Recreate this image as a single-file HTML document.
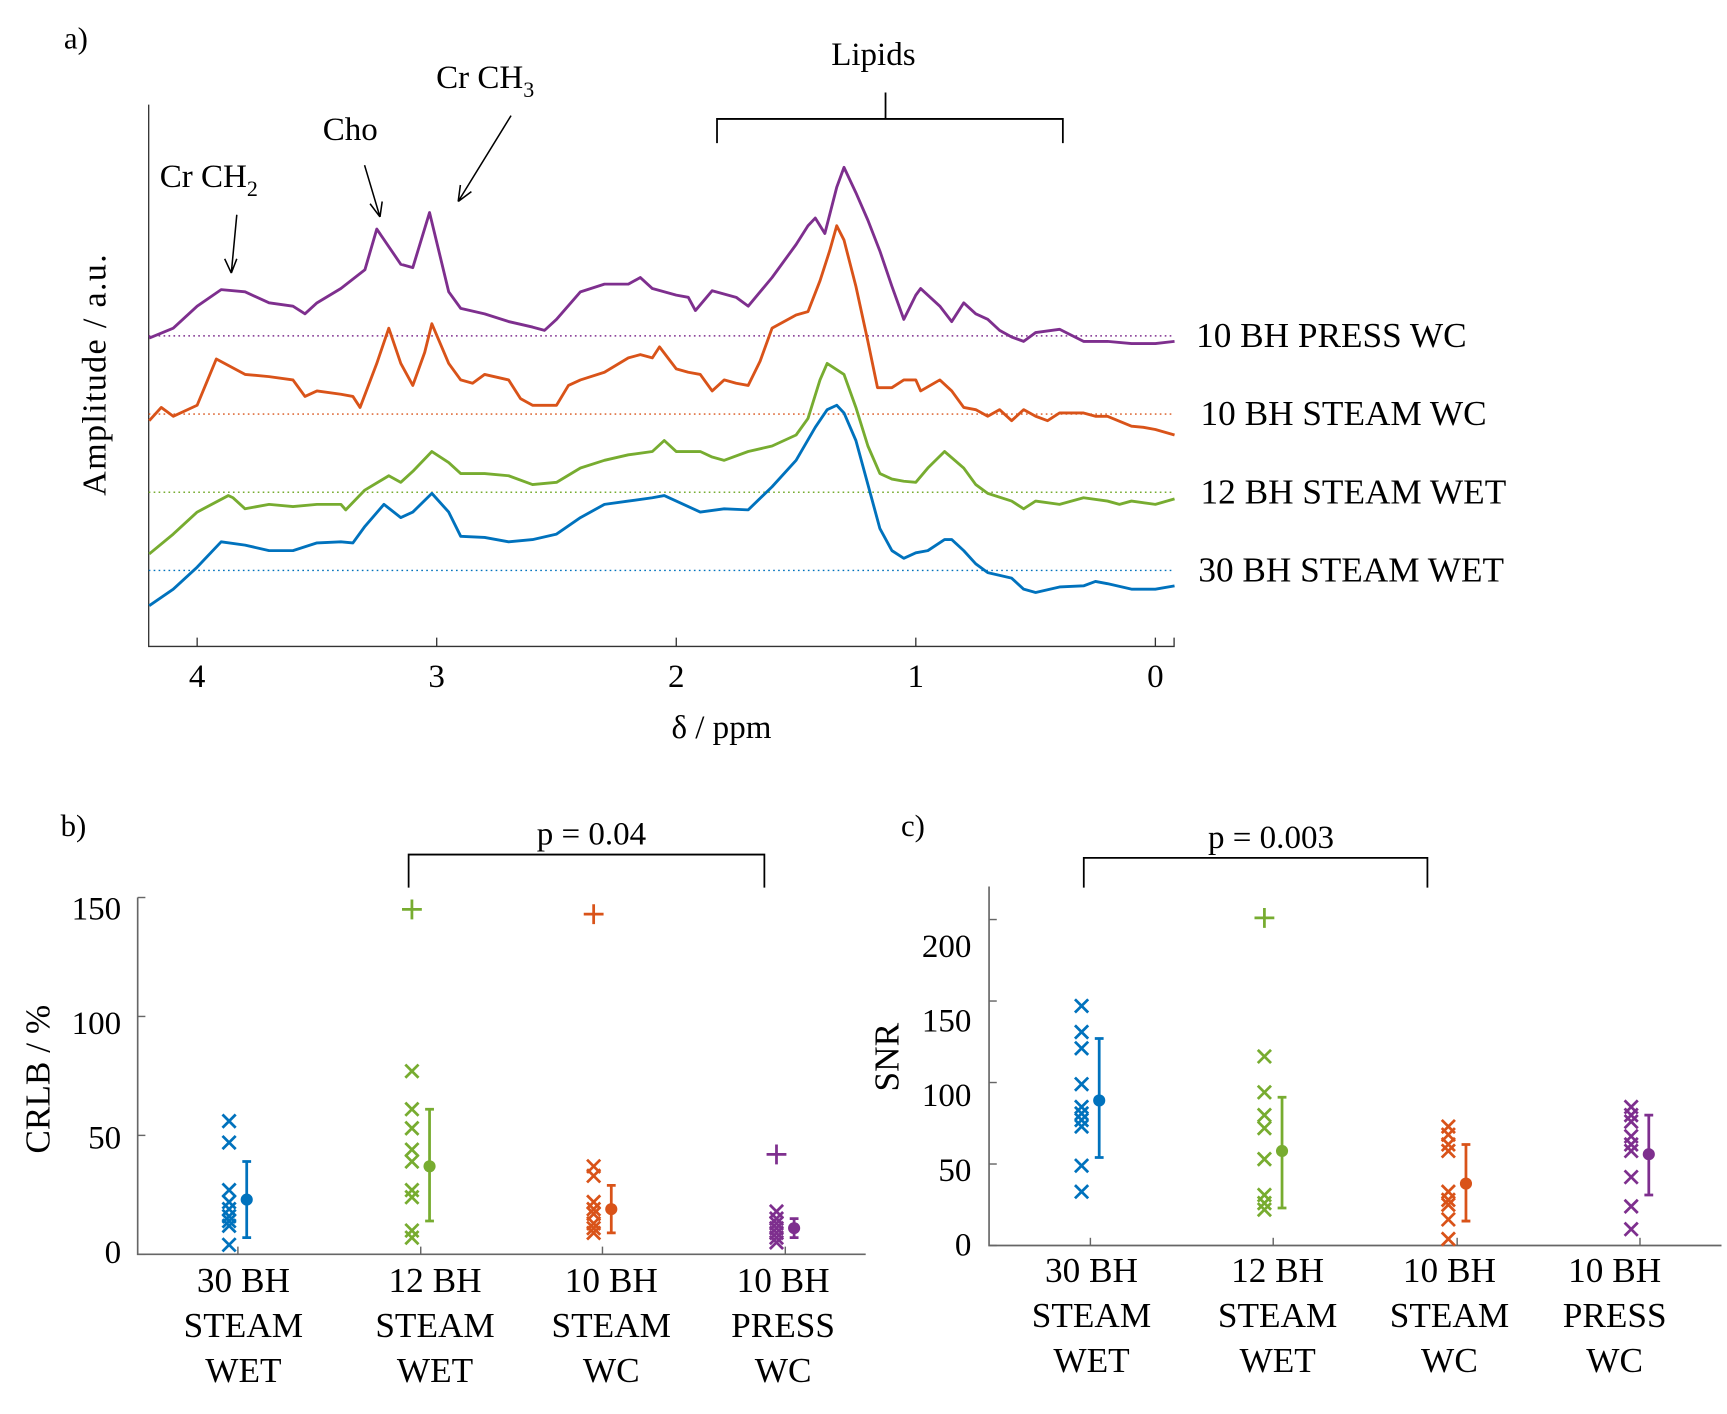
<!DOCTYPE html>
<html><head><meta charset="utf-8"><style>
html,body{margin:0;padding:0;background:#fff;}
svg{display:block;font-family:"Liberation Serif",serif;}
</style></head><body>
<svg id="fig" width="1727" height="1414" viewBox="0 0 1568 1284" preserveAspectRatio="none" xmlns="http://www.w3.org/2000/svg">
<rect width="1568" height="1284" fill="#fff"/>
<g id="pa"></g>
<g id="pb"></g>
<g id="pc"></g>
</svg>
<script>
// ===== Panel a data =====
const ppmPurple=[4.2,4.1,4.0,3.9,3.8,3.7,3.6,3.55,3.5,3.4,3.3,3.25,3.15,3.1,3.03,2.95,2.9,2.8,2.7,2.6,2.55,2.5,2.4,2.3,2.2,2.15,2.1,2.0,1.95,1.92,1.85,1.75,1.7,1.6,1.5,1.45,1.42,1.38,1.33,1.3,1.25,1.2,1.15,1.1,1.05,1.0,0.98,0.9,0.85,0.8,0.75,0.7,0.65,0.6,0.55,0.5,0.4,0.3,0.2,0.1,0.05,0,-0.08];
const ampPurple=[-2,7,27,42,40,30,27,20,30,43,60,97,65,62,112,40,25,20,13,8,5,15,40,47,47,53,43,37,35,23,41,35,27,53,83,100,107,93,135,153,130,105,77,45,15,37,43,27,13,30,20,15,5,-1,-5,3,6,-5,-5,-7,-7,-7,-5];
const ppmOrange=[4.2,4.15,4.1,4.0,3.92,3.8,3.7,3.6,3.55,3.5,3.4,3.35,3.32,3.25,3.2,3.15,3.1,3.05,3.02,2.95,2.9,2.85,2.8,2.7,2.65,2.6,2.5,2.45,2.4,2.3,2.2,2.15,2.1,2.07,2.0,1.95,1.9,1.85,1.8,1.75,1.7,1.65,1.6,1.5,1.45,1.4,1.36,1.33,1.3,1.25,1.2,1.16,1.1,1.05,1.0,0.98,0.9,0.85,0.8,0.75,0.7,0.65,0.6,0.55,0.5,0.45,0.4,0.3,0.25,0.2,0.1,0.05,0,-0.08];
const ampOrange=[-6,6,-2,8,50,36,34,31,16,21,18,16,6,46,78,46,26,56,82,46,31,28,36,31,14,8,8,26,31,38,51,54,51,61,41,38,36,21,31,28,26,48,78,90,93,121,148,171,158,116,66,24,24,31,31,21,31,21,6,4,-2,4,-6,4,-2,-6,1,1,-2,-2,-11,-12,-14,-19];
const ppmGreen=[4.2,4.1,4.0,3.87,3.85,3.8,3.7,3.6,3.5,3.4,3.38,3.3,3.2,3.15,3.1,3.02,2.95,2.9,2.8,2.7,2.6,2.5,2.4,2.3,2.2,2.1,2.05,2.0,1.9,1.85,1.8,1.7,1.6,1.55,1.5,1.45,1.4,1.37,1.3,1.25,1.2,1.15,1.1,1.05,1.0,0.95,0.88,0.8,0.75,0.7,0.6,0.55,0.5,0.4,0.3,0.2,0.15,0.1,0,-0.08];
const ampGreen=[-56,-38,-18,-3,-5,-15,-11,-13,-11,-11,-16,2,15,9,19,37,27,17,17,15,7,9,22,29,34,37,47,37,37,32,29,37,42,47,52,67,102,117,107,77,42,17,12,10,9,22,37,22,7,-1,-8,-15,-8,-11,-5,-8,-11,-8,-11,-6];
const ppmBlue=[4.2,4.1,4.0,3.9,3.8,3.7,3.6,3.5,3.4,3.35,3.3,3.22,3.15,3.1,3.02,2.95,2.9,2.8,2.7,2.6,2.5,2.4,2.3,2.2,2.1,2.05,2.0,1.9,1.8,1.7,1.6,1.5,1.42,1.37,1.33,1.3,1.25,1.2,1.15,1.1,1.05,1.0,0.95,0.88,0.85,0.8,0.75,0.7,0.6,0.55,0.5,0.4,0.3,0.25,0.2,0.1,0,-0.08];
const ampBlue=[-32,-17,3,26,23,18,18,25,26,25,40,60,48,53,70,53,31,30,26,28,33,48,60,63,66,68,63,53,56,55,76,100,130,146,150,143,118,78,38,18,11,16,18,28,28,18,6,-2,-7,-17,-20,-15,-14,-10,-12,-17,-17,-14];
const traceLabels=["10 BH PRESS WC","10 BH STEAM WC","12 BH STEAM WET","30 BH STEAM WET"];
const xTicksA=[4,3,2,1,0];

// ===== Panel b data =====
const cats=[["30 BH","STEAM","WET"],["12 BH","STEAM","WET"],["10 BH","STEAM","WC"],["10 BH","PRESS","WC"]];
const crlbPoints=[[56,47,27,22,19,16,14,12,4],[77,61,53,44,39,27,24,10,7],[37,33,22,19,17,13,11,9],[18,15,13,11,9,7,5]];
const crlbOutliers=[null,145,143,42];
const crlbMean=[23,37,19,11];
const crlbLow=[7,14,9,7];
const crlbHigh=[39,61,29,15];
const crlbTicks=[0,50,100,150];

// ===== Panel c data =====
const snrPoints=[[147,131,121,99,85,81,77,73,49,33],[116,94,80,72,53,31,26,22],[73,68,62,58,33,28,25,16,4],[85,80,76,67,62,58,42,24,10]];
const snrOutliers=[null,201,null,null];
const snrMean=[89,58,38,56];
const snrLow=[54,23,15,31];
const snrHigh=[127,91,62,80];
const snrTicks=[0,50,100,150,200];

const COLORS=["#0072BD","#77AC30","#D95319","#7E2F8E"];
const NS="http://www.w3.org/2000/svg";
function mk(parent,tag,attrs,txt){const e=document.createElementNS(NS,tag);for(const k in attrs)e.setAttribute(k,attrs[k]);if(txt!==undefined)e.textContent=txt;parent.appendChild(e);return e;}

// ----- Panel a -----
const pa=document.getElementById('pa');
const xA=p=>1049-217.5*p;
const bases=[305,376,447,518];
const labelXs=[1086,1090,1090,1088];
const traceCols=["#7E2F8E","#D95319","#77AC30","#0072BD"];
const ppms=[ppmPurple,ppmOrange,ppmGreen,ppmBlue];
const amps=[ampPurple,ampOrange,ampGreen,ampBlue];
let ax=mk(pa,'path',{d:'M135,95 V587 H1066 V579',fill:'none',stroke:'#333','stroke-width':1.2});


xTicksA.forEach(t=>{
  const tk=mk(pa,'line',{x1:xA(t),x2:xA(t),y1:587,y2:579,stroke:'#333','stroke-width':1.2});
  
  
  const tl=mk(pa,'text',{x:xA(t),y:624,'font-size':30,'text-anchor':'middle'},String(t));
  
  
});
for(let i=0;i<4;i++){
  const bl=mk(pa,'line',{x1:135,x2:1066,y1:bases[i],y2:bases[i],stroke:traceCols[i],'stroke-width':1.3,'stroke-dasharray':'1.5,3'});
  
  
  const pts=ppms[i].map((p,j)=>xA(p).toFixed(1)+','+(bases[i]-amps[i][j]).toFixed(1)).join(' ');
  const pl=mk(pa,'polyline',{points:pts,fill:'none',stroke:traceCols[i],'stroke-width':2.6,'stroke-linejoin':'round'});
  
  
  const lb=mk(pa,'text',{x:labelXs[i],y:bases[i]+10,'font-size':32},traceLabels[i]);
  
  
}
</script>
<script>
(function(){
const pa=document.getElementById('pa');
pa.insertAdjacentHTML('beforeend',`
<text x="58" y="44" font-size="28">a)</text>
<text x="655" y="670" font-size="30" text-anchor="middle">δ / ppm</text>
<text transform="translate(96,340) rotate(-90)" font-size="31" text-anchor="middle" letter-spacing="1.2">Amplitude / a.u.</text>
<text x="793" y="59" font-size="30" text-anchor="middle">Lipids</text>
<path d="M651,130 V108 H965 V130 M804,108 V84" fill="none" stroke="#000" stroke-width="1.6"/>
<text x="396" y="80" font-size="30">Cr CH<tspan font-size="20" dy="8">3</tspan></text>
<text x="318" y="127" font-size="30" text-anchor="middle">Cho</text>
<text x="145" y="170" font-size="30">Cr CH<tspan font-size="20" dy="8">2</tspan></text>
<g stroke="#000" stroke-width="1.4" fill="none">
<path d="M464,105 L416,183 M416,183 L418,168 M416,183 L428,174"/>
<path d="M331,150 L345,197 M345,197 L336,185 M345,197 L347,183"/>
<path d="M215,195 L210,248 M210,248 L204,235 M210,248 L215,235"/>
</g>`);
})();

function scatterPanel(g,opt){
  const yS=v=>opt.y0-opt.k*v;
  let a=mk(g,'path',{d:`M${opt.x0},${opt.yTop} V${opt.y0} H${opt.x1}`,fill:'none',stroke:'#666','stroke-width':1.5});
  
  
  opt.ticks.forEach(t=>{
    const tk=mk(g,'line',{x1:opt.x0,x2:opt.x0+7,y1:yS(t),y2:yS(t),stroke:'#666','stroke-width':1.3});
    
    
    const tl=mk(g,'text',{x:opt.labX,y:opt.labY(t)+10,'font-size':30,'text-anchor':'end'},String(t));
    
    
  });
  opt.cx.forEach((cx,i)=>{
    const tk=mk(g,'line',{x1:cx,x2:cx,y1:opt.y0,y2:opt.y0-7,stroke:'#666','stroke-width':1.3});
    
    
    cats[i].forEach((ln,j)=>{
      const t=mk(g,'text',{x:opt.catX[i],y:opt.catY+j*41,'font-size':32,'text-anchor':'middle'},ln);
      
      
    });
    const c=COLORS[i], px=cx-8, mx=cx+8, s=6;
    opt.pts[i].forEach(v=>{
      const y=yS(v);
      const m=mk(g,'path',{d:`M${px-s},${y-s} L${px+s},${y+s} M${px-s},${y+s} L${px+s},${y-s}`,stroke:c,'stroke-width':2.5});
      
      
    });
    if(opt.out[i]!==null){
      const y=yS(opt.out[i]);
      const m=mk(g,'path',{d:`M${px-9},${y} H${px+9} M${px},${y-9} V${y+9}`,stroke:c,'stroke-width':2.5});
      
      
    }
    const yl=yS(opt.lo[i]), yh=yS(opt.hi[i]);
    const e=mk(g,'path',{d:`M${mx},${yl} V${yh} M${mx-4},${yl} H${mx+4} M${mx-4},${yh} H${mx+4}`,stroke:c,'stroke-width':2.5,fill:'none'});
    
    
    const d=mk(g,'circle',{cx:mx,cy:yS(opt.mean[i]),r:5.5,fill:c});
    
    
  });
}
const pb=document.getElementById('pb');
scatterPanel(pb,{x0:125,x1:786,y0:1139,yTop:815,k:2.16,ticks:crlbTicks,labX:110,labY:t=>1137-2.08*t,
  cx:[216,382,547,713],catX:[221,395,555,711],catY:1173,pts:crlbPoints,out:crlbOutliers,mean:crlbMean,lo:crlbLow,hi:crlbHigh});
pb.insertAdjacentHTML('beforeend',`
<text x="55" y="759" font-size="28">b)</text>
<text transform="translate(45,980) rotate(-90)" font-size="32" text-anchor="middle">CRLB / %</text>
<path d="M371,806 V776 H694 V806" fill="none" stroke="#000" stroke-width="1.6"/>
<text x="537" y="767" font-size="30" text-anchor="middle">p = 0.04</text>`);
const pc=document.getElementById('pc');
scatterPanel(pc,{x0:898,x1:1563,y0:1131,yTop:805,k:1.48,ticks:snrTicks,labX:882,labY:t=>1130-1.355*t,
  cx:[990,1156,1323,1489],catX:[991,1160,1316,1466],catY:1164,pts:snrPoints,out:snrOutliers,mean:snrMean,lo:snrLow,hi:snrHigh});
pc.insertAdjacentHTML('beforeend',`
<text x="818" y="759" font-size="28">c)</text>
<text transform="translate(816,960) rotate(-90)" font-size="32" text-anchor="middle">SNR</text>
<path d="M984,806 V779 H1296 V806" fill="none" stroke="#000" stroke-width="1.6"/>
<text x="1154" y="770" font-size="30" text-anchor="middle">p = 0.003</text>`);
</script>
</body></html>
